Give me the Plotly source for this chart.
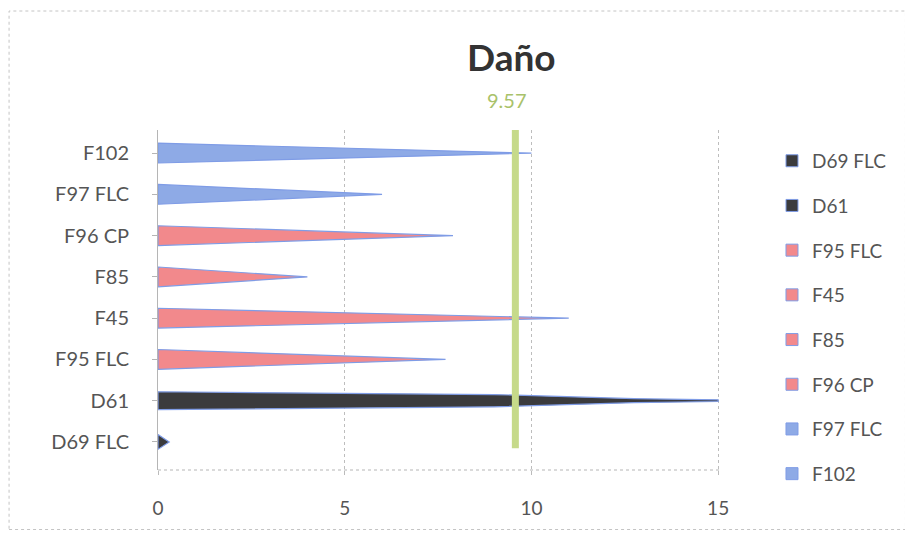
import plotly.graph_objects as go

# Damage index per specimen (bottom to top on the chart)
categories = ["D69 FLC", "D61", "F95 FLC", "F45", "F85", "F96 CP", "F97 FLC", "F102"]
values = [0.3, 15.0, 7.7, 11.0, 4.0, 7.9, 6.0, 10.0]
groups = ["dark", "dark", "pink", "pink", "pink", "pink", "blue", "blue"]
threshold = 9.57
x_ticks = [0, 5, 10, 15]

fill_colors = {"dark": "#3b3b3d", "pink": "#f2898c", "blue": "#8eaae6"}
edge_color = "#7f9ce6"
HALF = 0.24  # half thickness of a cone base, in category units

fig = go.Figure()

for i, (name, v, g) in enumerate(zip(categories, values, groups)):
    if name == "D61":
        # thick body that narrows only near the end
        fr = [0.0, 0.6, 0.85, 1.0]
        hh = [HALF * 0.9, HALF * 0.62, HALF * 0.2, 0.02]
    else:
        fr = [0.0, 1.0]
        hh = [HALF, 0.0]
    if name == "D69 FLC":
        hh = [HALF * 0.75, 0.0]
    xs = [f * v for f in fr] + [f * v for f in reversed(fr)] + [0]
    ys = [i + h for h in hh] + [i - h for h in reversed(hh)] + [i + hh[0]]
    fig.add_trace(go.Scatter(
        x=xs, y=ys, mode="lines", fill="toself",
        fillcolor=fill_colors[g],
        line=dict(color=edge_color, width=1.2),
        name=name, legendgroup=name, showlegend=False, hoverinfo="name",
    ))
    # square swatch for the legend
    fig.add_trace(go.Scatter(
        x=[None], y=[None], mode="markers", name=name, legendgroup=name,
        marker=dict(symbol="square", size=12, color=fill_colors[g],
                    line=dict(color=edge_color, width=1)),
    ))

font_fam = "Lato, Open Sans, sans-serif"

# threshold marker
fig.add_shape(type="line", x0=threshold, x1=threshold, y0=-0.15, y1=7.62,
              xref="x", yref="y", line=dict(color="#c6da8a", width=7), layer="above")
fig.add_annotation(x=threshold, y=1.088, xref="x", yref="paper", text=f"{threshold:.2f}",
                   showarrow=False, yanchor="middle", xshift=-8,
                   font=dict(family=font_fam, size=20, color="#a9c26a"))

# outer chart border
fig.add_shape(type="rect", xref="paper", yref="paper",
              x0=-0.265, x1=1.33, y0=-0.175, y1=1.35,
              line=dict(color="#c4c4c4", width=1, dash="dot"))
# bottom floor line
fig.add_shape(type="line", xref="paper", yref="paper", x0=0, x1=1, y0=0, y1=0,
              line=dict(color="#b5b5b5", width=1, dash="dot"))

fig.update_layout(
    width=905, height=545,
    margin=dict(l=158, r=185, t=130, b=75),
    paper_bgcolor="white", plot_bgcolor="white",
    title=dict(text="<b>Daño</b>", x=0.565, xanchor="center", y=0.893, yanchor="middle",
               font=dict(family=font_fam, size=37, color="#333333")),
    xaxis=dict(range=[0, 15.05], tickvals=x_ticks, showgrid=True, gridcolor="#bdbdbd",
               griddash="dot", gridwidth=1, zeroline=False, showline=False,
               ticks="outside", ticklen=4, tickcolor="#bbbbbb", ticklabelstandoff=17,
               tickfont=dict(family=font_fam, size=19, color="#555555"), fixedrange=True),
    yaxis=dict(range=[-0.68, 7.56], tickvals=list(range(len(categories))), ticktext=categories,
               showgrid=False, zeroline=False, showline=True, linecolor="#b5b5b5", linewidth=1,
               ticks="outside", tickson="boundaries", ticklen=5, tickcolor="#b5b5b5",
               ticklabelstandoff=19,
               tickfont=dict(family=font_fam, size=20, color="#555555"), fixedrange=True),
    legend=dict(x=1.0925, y=0.965, xanchor="left", yanchor="top", traceorder="grouped",
                tracegroupgap=17, itemwidth=30, bgcolor="rgba(0,0,0,0)", maxheight=520,
                font=dict(family=font_fam, size=19, color="#555555")),
    showlegend=True,
)

fig.write_html("out.html")
